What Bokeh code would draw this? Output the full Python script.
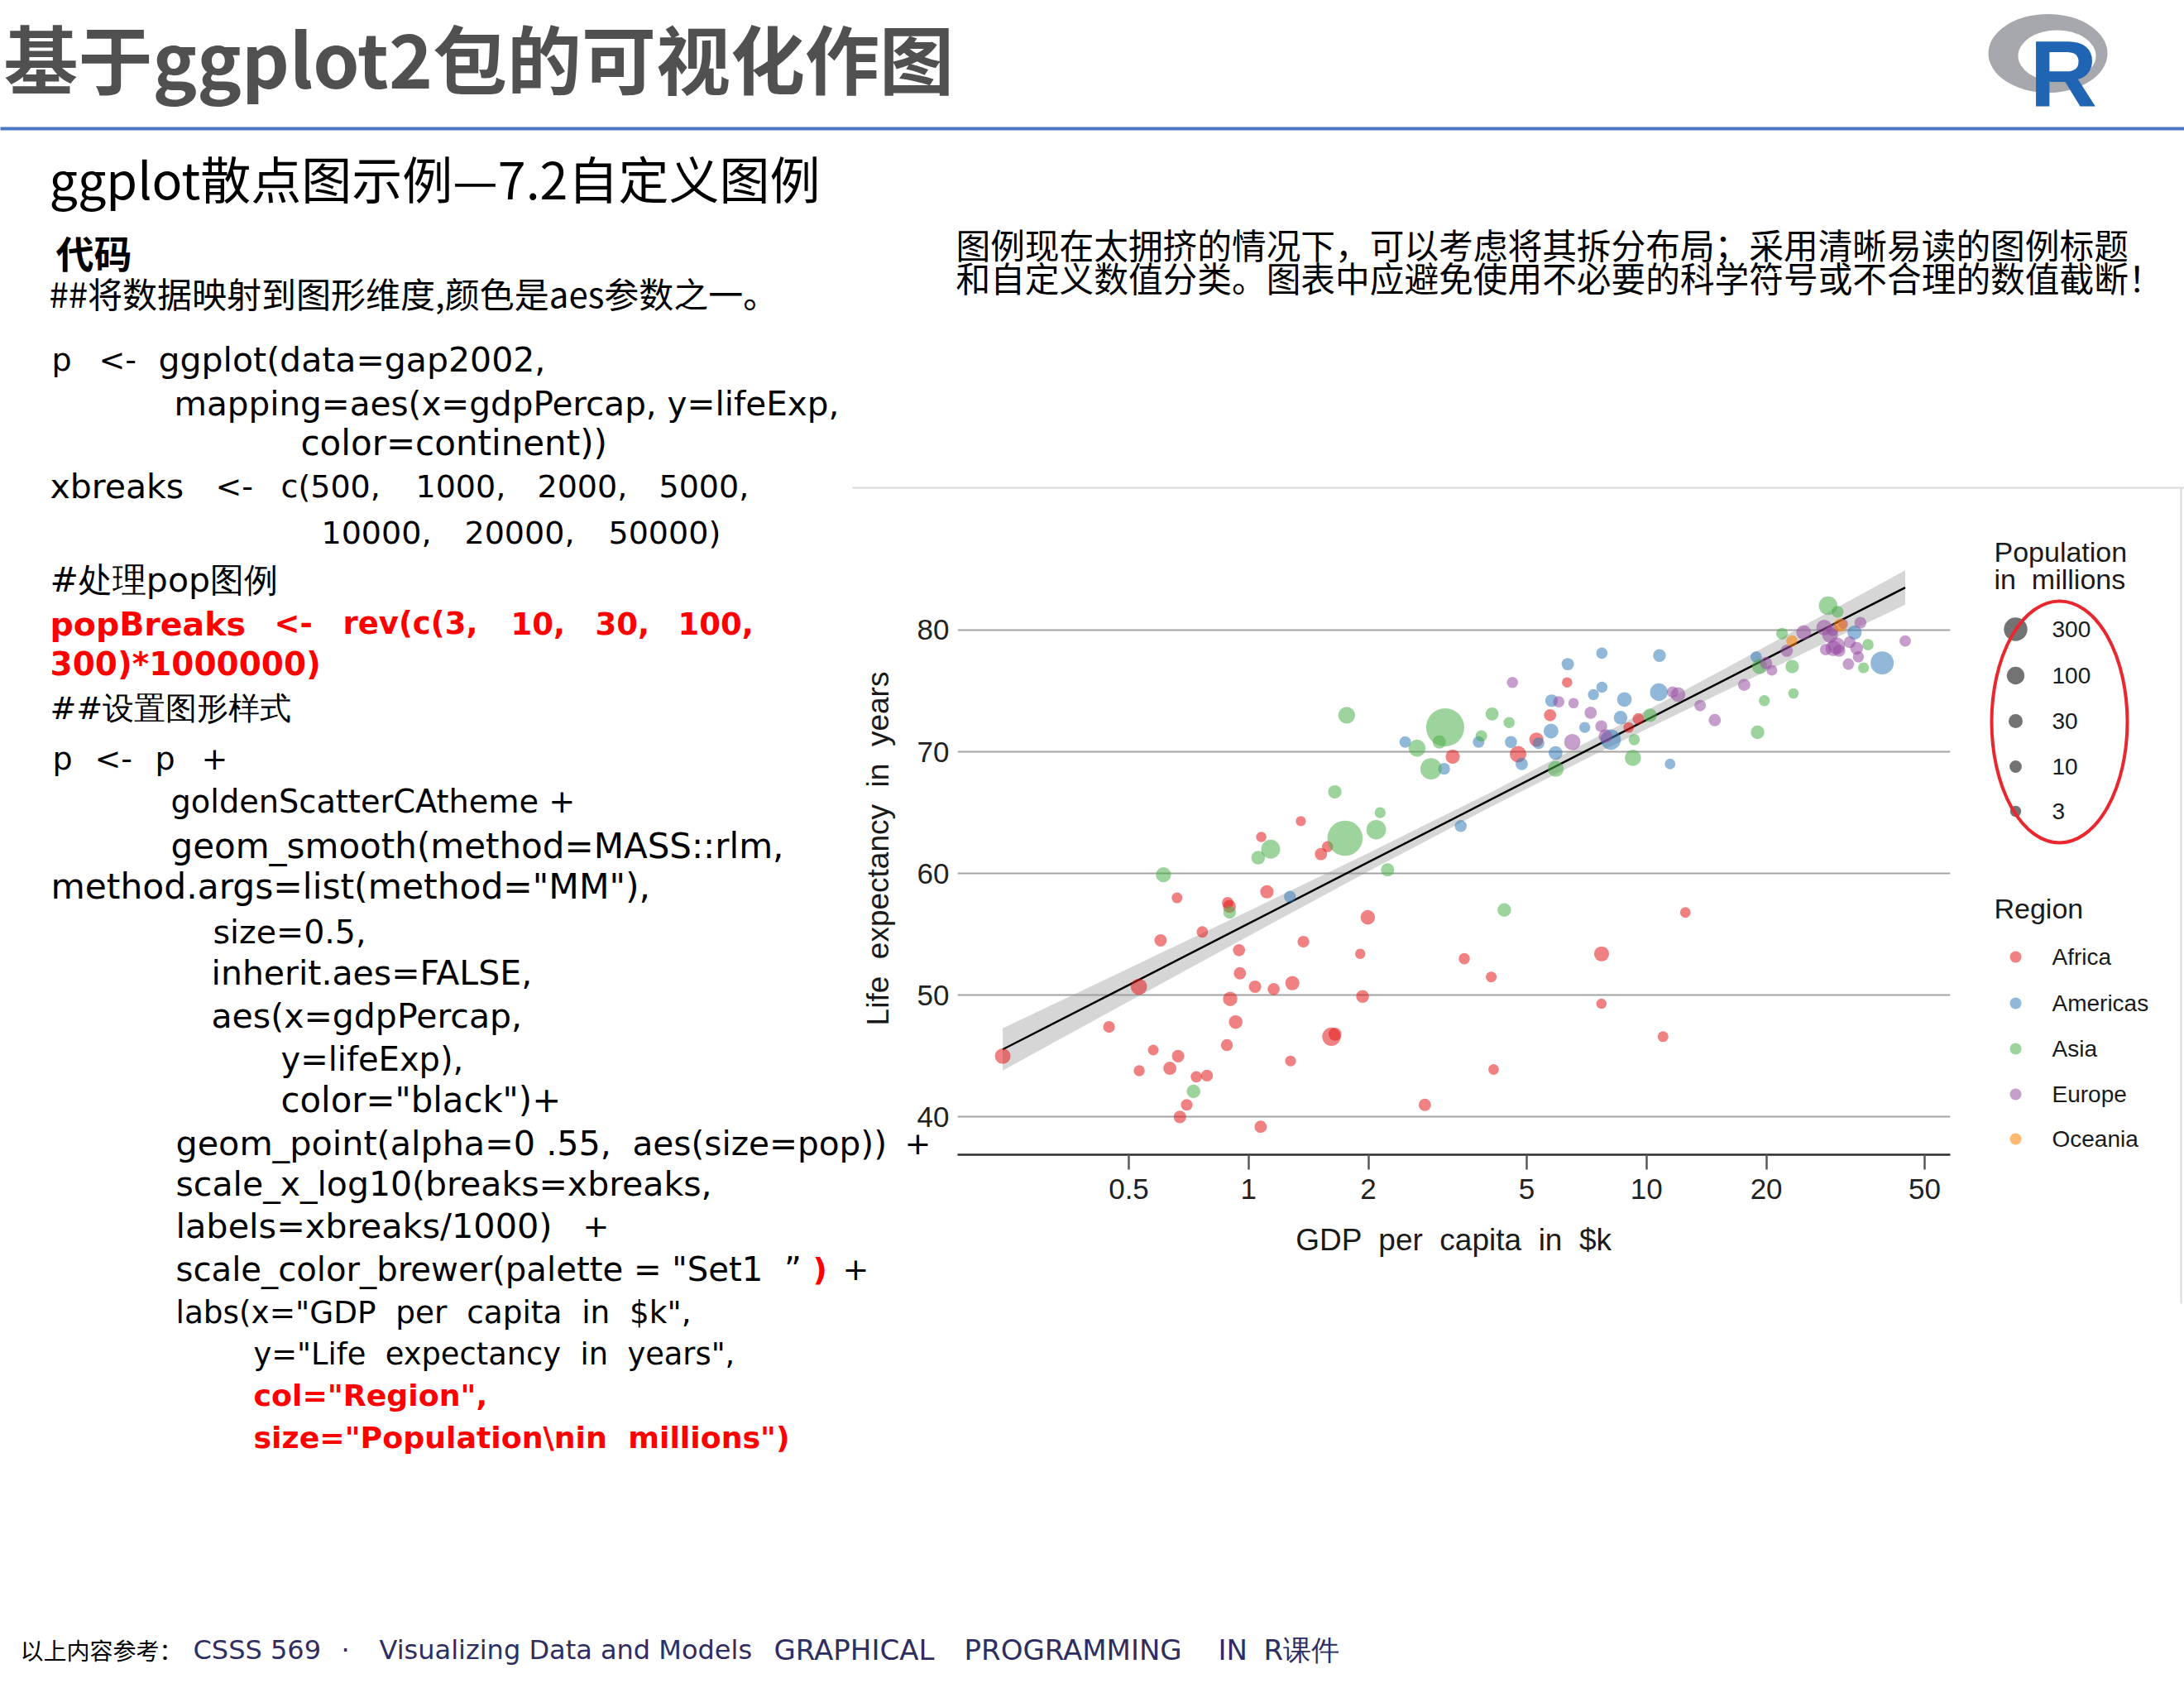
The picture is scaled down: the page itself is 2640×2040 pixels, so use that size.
from math import sqrt

from bokeh.plotting import figure
from bokeh.models import Range1d, LinearScale, FixedTicker
from bokeh.core.properties import value
from bokeh.embed import file_html
from bokeh.resources import INLINE

# ---------------------------------------------------------------------------
# gap2002: GDP per capita (US$), life expectancy (years), population (millions)
# ---------------------------------------------------------------------------
africa_gdp = [5288, 2773, 1373, 11004, 1038, 446, 1934, 739, 1156, 1076, 241, 3484, 1649,
              1908, 4755, 7703, 765, 530, 12522, 661, 1112, 946, 576, 1288, 1275, 531,
              9535, 895, 665, 951, 1579, 9022, 3258, 634, 4072, 601, 1615, 6316, 786,
              1353, 1520, 699, 882, 7711, 1993, 4128, 899, 886, 5723, 928, 1072, 672]
africa_life = [71.0, 41.0, 54.4, 46.6, 50.7, 47.4, 49.9, 43.3, 50.5, 63.0, 45.0, 53.0, 46.8,
               53.4, 69.8, 49.3, 55.2, 50.7, 56.8, 58.0, 58.5, 53.7, 45.5, 51.0, 44.6, 43.8,
               72.7, 57.3, 45.0, 51.8, 62.2, 72.0, 69.6, 44.0, 51.5, 54.5, 46.6, 75.7, 43.4,
               64.3, 61.6, 41.0, 45.9, 53.4, 56.4, 43.9, 49.7, 57.6, 73.0, 47.8, 39.2, 40.0]
africa_pop = [31.3, 10.9, 7.0, 1.6, 12.3, 7.0, 15.9, 4.0, 8.8, 0.6, 55.4, 3.3, 16.3,
              0.4, 73.3, 0.5, 4.4, 67.9, 1.3, 1.5, 20.6, 8.8, 1.3, 31.4, 2.0, 2.8,
              5.4, 16.5, 11.8, 10.6, 2.8, 1.2, 31.2, 18.5, 2.0, 11.1, 119.9, 0.7, 7.9,
              0.2, 10.9, 5.4, 7.8, 44.4, 37.1, 1.1, 34.6, 5.0, 9.8, 24.7, 10.6, 11.9]

americas_gdp = [8798, 3413, 8131, 33329, 10779, 5755, 7723, 6341, 4564, 5773, 5352, 4858,
                1270, 3100, 6995, 10742, 2475, 7356, 3784, 5909, 18856, 11461, 39097, 7727, 8605]
americas_life = [74.3, 63.9, 71.0, 79.8, 77.9, 71.7, 78.1, 77.2, 70.8, 74.2, 70.7, 69.0,
                 58.1, 68.6, 72.0, 74.9, 70.8, 74.7, 70.8, 69.9, 77.8, 69.0, 77.3, 75.3, 72.8]
americas_pop = [38.3, 8.4, 179.9, 31.9, 15.5, 41.0, 3.8, 11.2, 8.7, 12.9, 6.4, 11.2,
                7.6, 6.7, 2.7, 102.5, 5.1, 3.0, 5.9, 26.8, 3.9, 1.1, 287.7, 3.4, 24.3]

asia_gdp = [727, 23404, 1136, 896, 3119, 30209, 1747, 2874, 9241, 4391, 21906, 28605, 3845,
            1647, 19234, 35110, 9314, 10207, 2141, 611, 1057, 19775, 2093, 2651, 19015,
            36023, 3015, 4091, 23235, 5913, 1764, 4515, 2235]
asia_life = [42.1, 74.8, 62.0, 56.8, 72.0, 81.5, 62.9, 68.6, 69.5, 57.0, 79.7, 82.0, 71.3,
             66.7, 77.0, 76.9, 71.0, 73.0, 65.0, 59.9, 61.3, 74.2, 63.6, 70.3, 71.6,
             78.8, 70.8, 73.1, 77.0, 68.6, 73.0, 72.4, 60.3]
asia_pop = [25.3, 0.7, 135.7, 12.9, 1280.4, 6.8, 1034.2, 211.1, 66.9, 24.0, 6.0, 127.1, 5.3,
            22.2, 48.0, 2.1, 3.7, 22.7, 2.7, 45.6, 25.9, 2.7, 153.4, 83.0, 24.5,
            4.2, 19.6, 17.2, 22.5, 62.8, 80.9, 3.4, 18.7]

europe_gdp = [4604, 32418, 30486, 6019, 7697, 11628, 17596, 32167, 28205, 28926, 30036,
              22514, 14844, 31163, 34077, 27968, 6557, 33725, 44684, 12002, 19971, 7885,
              7236, 13639, 20660, 24835, 29342, 34481, 6508, 29479]
europe_life = [75.7, 79.0, 78.3, 74.1, 72.1, 74.9, 75.5, 77.2, 78.4, 79.6, 78.7,
               78.3, 72.6, 80.5, 77.8, 80.2, 74.0, 78.5, 79.1, 74.7, 77.3, 71.3,
               73.2, 73.8, 76.7, 79.8, 80.0, 80.6, 70.8, 78.5]
europe_pop = [3.5, 8.1, 10.3, 4.2, 7.7, 4.5, 10.3, 5.4, 5.2, 59.9, 82.4,
              10.6, 10.1, 0.3, 3.9, 57.9, 0.7, 16.1, 4.5, 38.6, 10.4, 22.4,
              10.1, 5.4, 2.0, 40.2, 9.0, 7.4, 67.3, 59.9]

oceania_gdp = [30688, 23190]
oceania_life = [80.4, 79.1]
oceania_pop = [19.5, 3.9]

regions = ["Africa", "Americas", "Asia", "Europe", "Oceania"]
region_colors = ["#E41A1C", "#377EB8", "#4DAF4A", "#984EA3", "#FF7F00"]   # Brewer Set1

# robust (MM) fit of lifeExp on log10(gdpPercap) with its confidence band
smooth_gdp = [241, 500, 1000, 2000, 4000, 8000, 16000, 32000, 44684]
smooth_fit = [45.55, 50.85, 55.89, 60.93, 65.96, 71.00, 76.03, 81.07, 83.49]
smooth_lo = [43.82, 49.49, 54.86, 60.18, 65.36, 70.32, 75.10, 79.82, 82.08]
smooth_hi = [47.28, 52.21, 56.92, 61.68, 66.56, 71.68, 76.96, 82.32, 84.90]

xbreaks = [500, 1000, 2000, 5000, 10000, 20000, 50000]
ybreaks = [40, 50, 60, 70, 80]
pop_breaks = [300, 100, 30, 10, 3]

POP_MAX = 1280.4


def point_size(pop_m):
    """Area-style size scale: marker diameter in px for a population in millions."""
    return 11.8 + 34.2 * sqrt(pop_m / POP_MAX)


def spaced(s):
    # keep the doubled word gaps visible in SVG text
    return s.replace("  ", " \u00a0")


# ---------------------------------------------------------------------------
# page = one canvas; the frame is the scatter panel
# ---------------------------------------------------------------------------
W, H = 2640, 2040
PANEL_L, PANEL_R, PANEL_T, PANEL_B = 1157, 2357, 655, 1395

p = figure(width=W, height=H, x_axis_type="log",
           x_range=Range1d(185.6, 58000), y_range=Range1d(36.9, 87.2),
           output_backend="svg", toolbar_location=None,
           min_border_left=PANEL_L, min_border_right=W - PANEL_R,
           min_border_top=PANEL_T, min_border_bottom=H - PANEL_B,
           background_fill_color="white", border_fill_color="white",
           outline_line_color=None)

# page-pixel coordinate system for the slide furniture
p.extra_x_ranges = {"px": Range1d(PANEL_L, PANEL_R)}
p.extra_y_ranges = {"py": Range1d(PANEL_B, PANEL_T)}
p.extra_x_scales = {"px": LinearScale()}
p.extra_y_scales = {"py": LinearScale()}
PG = dict(x_range_name="px", y_range_name="py", level="overlay")

# ---- axes & grid ----
xa = p.xaxis[0]
xa.ticker = FixedTicker(ticks=xbreaks)
xa.major_label_overrides = {t: f"{t / 1000:g}" for t in xbreaks}
xa.axis_label = spaced("GDP  per  capita  in  $k")
xa.axis_line_color = "#2b2b2b"
xa.axis_line_width = 2.5
xa.major_tick_line_color = "#5a5a5a"
xa.major_tick_line_width = 2.5
xa.major_tick_out = 18
xa.major_tick_in = 0
xa.minor_tick_line_color = None
xa.major_label_standoff = 11
xa.axis_label_standoff = 26

ya = p.yaxis[0]
ya.ticker = FixedTicker(ticks=ybreaks)
ya.axis_label = spaced("Life  expectancy  in  years")
ya.axis_line_color = None
ya.major_tick_out = 0
ya.major_tick_in = 0
ya.minor_tick_line_color = None
ya.major_label_standoff = 10
ya.axis_label_standoff = 24

for ax in (xa, ya):
    ax.major_label_text_font = "Liberation Sans"
    ax.major_label_text_font_size = "35px"
    ax.major_label_text_color = "#222222"
    ax.axis_label_text_font = "Liberation Sans"
    ax.axis_label_text_font_size = "37px"
    ax.axis_label_text_font_style = "normal"
    ax.axis_label_text_color = "#1a1a1a"

p.xgrid.grid_line_color = None
p.ygrid.ticker = FixedTicker(ticks=ybreaks)
p.ygrid.grid_line_color = "#a3a3a3"
p.ygrid.grid_line_width = 2

# ---- smoother ----
p.varea(x=smooth_gdp, y1=smooth_lo, y2=smooth_hi, fill_color="#999999", fill_alpha=0.4)
p.line(smooth_gdp, smooth_fit, line_color="black", line_width=2.5)

# ---- points ----
series = [
    (africa_gdp, africa_life, africa_pop),
    (americas_gdp, americas_life, americas_pop),
    (asia_gdp, asia_life, asia_pop),
    (europe_gdp, europe_life, europe_pop),
    (oceania_gdp, oceania_life, oceania_pop),
]
for (gdp, life, pop), col in zip(series, region_colors):
    p.scatter(gdp, life, size=[point_size(v) for v in pop],
              fill_color=col, fill_alpha=0.55, line_color=None)


# ---------------------------------------------------------------------------
# slide furniture (page pixel coordinates, drawn above the frame clip)
# ---------------------------------------------------------------------------
def put(x, y, text, size, color="#000000", font="DejaVu Sans", bold=False,
        align="left", baseline="middle"):
    p.text(x=[x], y=[y], text=[text], text_font=value(font),
           text_font_size=value(f"{size}px"), text_color=color,
           text_font_style="bold" if bold else "normal",
           text_align=align, text_baseline=baseline, **PG)


def dots(xs, ys, sizes, colors, alpha):
    p.ellipse(x=xs, y=ys, width=sizes, height=sizes, width_units="screen",
              height_units="screen", fill_color=colors, fill_alpha=alpha,
              line_color=None, **PG)


# header
put(4, 67, "基于ggplot2包的可视化作图", 90, "#505050", "Noto Sans CJK SC", bold=True)
p.segment(x0=[0], y0=[155], x1=[W], y1=[155], line_color="#4a76c6", line_width=4, **PG)

# R logo
p.ellipse(x=[2475], y=[64], width=144, height=95, width_units="screen", height_units="screen",
          fill_color="#a6a8ad", line_color=None, **PG)
p.ellipse(x=[2486], y=[67], width=94, height=62, width_units="screen", height_units="screen",
          fill_color="white", line_color=None, **PG)
put(2453, 89, "R", 113, "#2064b4", "Liberation Sans", bold=True)

put(59, 214, "ggplot散点图示例—7.2自定义图例", 61, "#000000", "Noto Sans CJK SC")
put(67, 303, "代码", 46, "#000000", "Noto Sans CJK SC", bold=True)
put(59, 353, "##将数据映射到图形维度,颜色是aes参数之一。", 42, "#000000", "Noto Sans CJK SC")

put(1155, 294, "图例现在太拥挤的情况下，可以考虑将其拆分布局；采用清晰易读的图例标题", 41.7,
    "#000000", "Noto Sans CJK SC")
put(1155, 334, "和自定义数值分类。图表中应避免使用不必要的科学符号或不合理的数值截断！", 41.7,
    "#000000", "Noto Sans CJK SC")

# code listing: (left x, centre y, text, style, font px)
code_tokens = [
    (62, 434, "p", "n", 38), (119, 434, "<-", "n", 38),
    (191, 434, "ggplot(data=gap2002,", "n", 41),
    (210, 487, "mapping=aes(x=gdpPercap, y=lifeExp,", "n", 40.5),
    (363, 535, "color=continent))", "n", 42),
    (60, 587, "xbreaks", "n", 41), (260, 587, "<-", "n", 38), (339, 587, "c(500,", "n", 38),
    (502, 587, "1000,", "n", 38), (649, 587, "2000,", "n", 38), (796, 587, "5000,", "n", 38),
    (388, 643, "10000,", "n", 38), (561, 643, "20000,", "n", 38), (735, 643, "50000)", "n", 38),
    (60, 700, "#处理pop图例", "n", 41),
    (60, 753, "popBreaks", "r", 39.5), (331, 753, "<-", "r", 37), (414, 753, "rev(c(3,", "r", 37),
    (617, 753, "10,", "r", 37), (719, 753, "30,", "r", 37), (819, 753, "100,", "r", 37),
    (60, 802, "300)*1000000)", "r", 39),
    (60, 855, "##设置图形样式", "n", 38),
    (63, 916, "p", "n", 38), (114, 916, "<-", "n", 38), (187, 916, "p", "n", 38),
    (243, 916, "+", "n", 38),
    (206, 968, "goldenScatterCAtheme +", "n", 38.3),
    (206, 1022, "geom_smooth(method=MASS::rlm,", "n", 42),
    (61, 1071, 'method.args=list(method="MM"),', "n", 42.4),
    (257, 1125, "size=0.5,", "n", 39.5),
    (255, 1175, "inherit.aes=FALSE,", "n", 41),
    (255, 1227, "aes(x=gdpPercap,", "n", 41),
    (339, 1279, "y=lifeExp),", "n", 40),
    (339, 1329, 'color="black")+', "n", 41.8),
    (212, 1381, "geom_point(alpha=0 .55,", "n", 41.3), (764, 1381, "aes(size=pop))", "n", 40.6),
    (1093, 1381, "+", "n", 38),
    (212, 1430, "scale_x_log10(breaks=xbreaks,", "n", 41),
    (212, 1481, "labels=xbreaks/1000)", "n", 41.4), (704, 1481, "+", "n", 38),
    (212, 1533, 'scale_color_brewer(palette = "Set1  \u201d', "n", 40.2),
    (982, 1533, ")", "r", 38), (1018, 1533, "+", "n", 38),
    (212, 1585, 'labs(x="GDP  per  capita  in  $k",', "n", 37.4),
    (306, 1636, 'y="Life  expectancy  in  years",', "n", 36.8),
    (306, 1686, 'col="Region",', "r", 36.3),
    (306, 1737, 'size="Population\\nin  millions")', "r", 36.3),
]
for x, y, txt, style, fs in code_tokens:
    if style == "r":
        put(x, y, spaced(txt), fs, "#ff0000", "DejaVu Sans", bold=True)
    else:
        put(x, y, spaced(txt), fs, "#000000", "DejaVu Sans")

# frame of the embedded chart picture
p.segment(x0=[1030, 2636], y0=[589, 589], x1=[W, 2636], y1=[589, 1575],
          line_color="#d9d9d9", line_width=2, **PG)

# size legend
put(2410, 666, "Population", 34, "#1a1a1a", "Liberation Sans")
put(2410, 699, spaced("in  millions"), 34, "#1a1a1a", "Liberation Sans")
pop_key_y = [760, 816, 871, 926, 980]
dots([2436] * len(pop_breaks), pop_key_y, [point_size(v) for v in pop_breaks], "black", 0.55)
for yy, v in zip(pop_key_y, pop_breaks):
    put(2480, yy, str(v), 28, "#1a1a1a", "Liberation Sans")
p.ellipse(x=[2489], y=[872], width=164, height=292, width_units="screen", height_units="screen",
          fill_color=None, line_color="#e8282e", line_width=4, **PG)

# colour legend
put(2410, 1097, "Region", 34, "#1a1a1a", "Liberation Sans")
reg_key_y = [1156, 1212, 1267, 1322, 1376]
dots([2436] * len(regions), reg_key_y, [14] * len(regions), region_colors, 0.55)
for yy, name in zip(reg_key_y, regions):
    put(2480, yy, name, 28, "#1a1a1a", "Liberation Sans")

# footer
FOOT = "#2e2e60"
put(24, 1993, "以上内容参考：", 28, "#000000", "Noto Sans CJK SC")
put(233, 1993, "CSSS 569", 32, FOOT)
put(412, 1993, "·", 32, FOOT)
put(458, 1993, "Visualizing Data and Models", 32, FOOT)
for x, word in [(935, "GRAPHICAL"), (1165, "PROGRAMMING"), (1472, "IN"), (1527, "R课件")]:
    put(x, 1993, word, 34, FOOT)

open("out.html", "w").write(file_html(p, INLINE))
